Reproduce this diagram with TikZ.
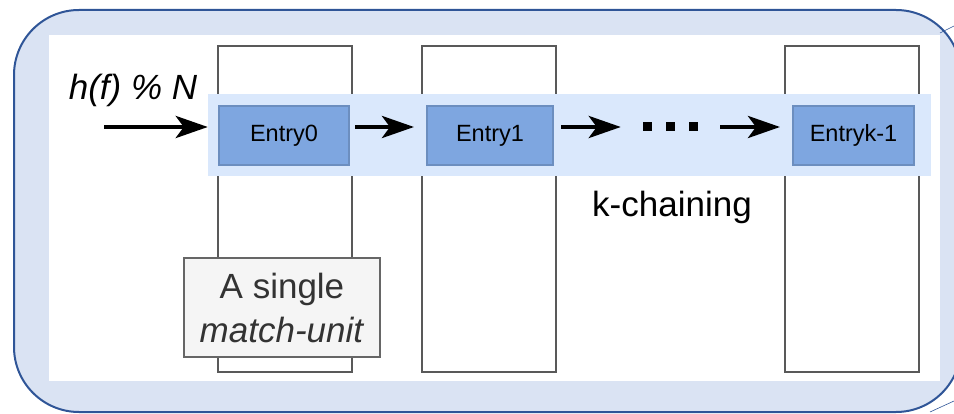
\documentclass[tikz,border=0pt]{standalone}
\usepackage{fontspec}
\setmainfont{Liberation Sans}
\usetikzlibrary{arrows.meta,calc}
\definecolor{outerfill}{HTML}{DAE3F3}
\definecolor{outerline}{HTML}{2F5597}
\definecolor{bandfill}{HTML}{DAE8FC}
\definecolor{entryfill}{HTML}{7EA6E0}
\definecolor{entryline}{HTML}{6C8EBF}
\definecolor{colline}{HTML}{595959}
\definecolor{boxfill}{HTML}{F5F5F5}
\definecolor{boxline}{HTML}{666666}
\definecolor{boxtext}{HTML}{333333}
\begin{document}
\begin{tikzpicture}[x=1pt,y=-1pt,
  unitcol/.style={draw=colline,line width=2pt,fill=white,minimum width=134pt,minimum height=326pt,inner sep=0pt,outer sep=0pt},
  entrybox/.style={draw=entryline,line width=2pt,fill=entryfill,minimum height=59pt,inner sep=0pt,font=\fontsize{23.5}{27}\selectfont},
  arr/.style={line width=4.5pt,-{Stealth[length=32pt 0 0,width=22pt 0 0,inset=8pt 0 0]}},
  dotsq/.style={fill=black,minimum width=9pt,minimum height=9pt,inner sep=0pt},
  bigtext/.style={inner sep=0pt,font=\fontsize{35}{42}\selectfont}
]
\useasboundingbox (0,0) rectangle (954,414);
\clip (0,0) rectangle (954,414);
% outer container
\draw[fill=outerfill,draw=outerline,line width=2pt,rounded corners=65pt] (14,10) rectangle (961,412);
\draw[outerline,line width=0.6pt] (940,33) -- (954,26);
\draw[outerline,line width=0.6pt] (930,412) -- (954,401);
\fill[white] (49,35) rectangle (940,381);
% match units
\node[unitcol] (c0) at (285,209) {};
\node[unitcol] (c1) at (488.5,209) {};
\node[unitcol] (c2) at (851.5,209) {};
% band
\node[fill=bandfill,minimum width=723pt,minimum height=82pt,inner sep=0pt] (band) at (569.5,135) {};
% entries
\node[entrybox,minimum width=130pt] (e0) at (284,135.5) {Entry0};
\node[entrybox,minimum width=126pt] (e1) at (490,135.5) {Entry1};
\node[entrybox,minimum width=121pt] (ek) at (853.5,135.5) {Entryk-1};
% dots
\node[dotsq] (d1) at (647.5,126.5) {};
\node[dotsq] (d2) at (670,126.5) {};
\node[dotsq] (d3) at (693.5,126.5) {};
% arrows
\coordinate (ay) at (0,127);
\coordinate (src) at (104,127);
\draw[arr] (src) -- (band.west |- ay);
\draw[arr] ($(e0.east |- ay)+(5,0)$) -- ($(e1.west |- ay)+(-12,0)$);
\draw[arr] ($(e1.east |- ay)+(7,0)$) -- ($(d1.west |- ay)+(-22,0)$);
\draw[arr] ($(d3.east |- ay)+(22,0)$) -- ($(ek.west |- ay)+(-12,0)$);
% labels
\node[inner sep=0pt,anchor=base,font=\fontsize{35}{42}\selectfont\itshape] (hash) at (133,100) {h(f) \% N};
\node[bigtext,anchor=base] (kchain) at (672,217) {k-chaining};
\node[draw=boxline,line width=2pt,fill=boxfill,minimum width=196pt,minimum height=99pt,align=center,text=boxtext,inner sep=0pt,font=\fontsize{35}{44}\selectfont] (single) at (282,307.5) {A single\\\textit{match-unit}};
\end{tikzpicture}
\end{document}
